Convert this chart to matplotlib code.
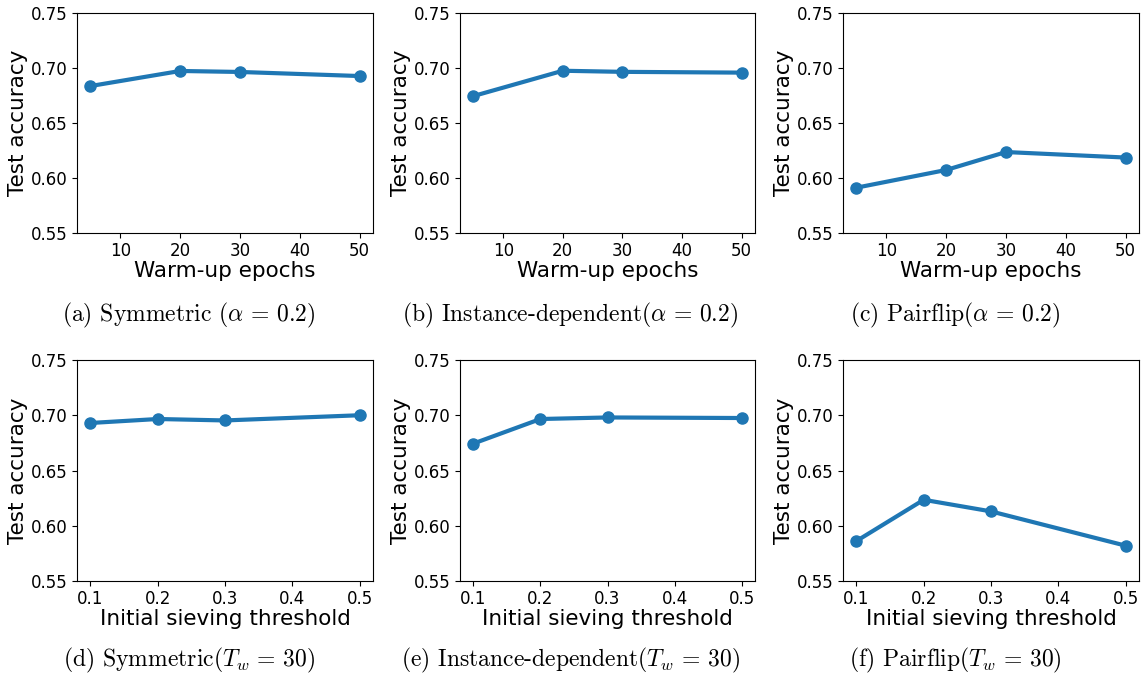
import matplotlib
matplotlib.use("Agg")
import matplotlib.pyplot as plt

plt.rcParams['mathtext.fontset'] = 'cm'

# warm-up epochs sweep (top row)
warmup_epochs = [5, 20, 30, 50]
acc_sym_warmup = [0.6836, 0.6973, 0.6964, 0.6927]
acc_inst_warmup = [0.6745, 0.6975, 0.6965, 0.6958]
acc_pair_warmup = [0.5912, 0.6073, 0.6236, 0.6186]

# initial sieving threshold sweep (bottom row)
thresholds = [0.1, 0.2, 0.3, 0.5]
acc_sym_thr = [0.6930, 0.6966, 0.6953, 0.7000]
acc_inst_thr = [0.6744, 0.6966, 0.6980, 0.6975]
acc_pair_thr = [0.5862, 0.6235, 0.6130, 0.5820]

captions = [r'(a) Symmetric ($\alpha\,=\,0.2$)',
            r'(b) Instance-dependent($\alpha\,=\,0.2$)',
            r'(c) Pairflip($\alpha\,=\,0.2$)',
            r'(d) Symmetric($T_w\,=\,30$)',
            r'(e) Instance-dependent($T_w\,=\,30$)',
            r'(f) Pairflip($T_w\,=\,30$)']

W, H = 1144, 677
fig = plt.figure(figsize=(W / 100, H / 100), dpi=100)

# axes boxes in pixels: left, right, top, bottom
lefts = [77, 460, 843]
rights = [373, 755, 1139]
rows = [(13, 233), (360, 581)]
cap_x = [189, 570, 955]
cap_y = [315, 660]

panels = [(warmup_epochs, acc_sym_warmup), (warmup_epochs, acc_inst_warmup),
          (warmup_epochs, acc_pair_warmup), (thresholds, acc_sym_thr),
          (thresholds, acc_inst_thr), (thresholds, acc_pair_thr)]

for i, (xs, ys) in enumerate(panels):
    r, c = divmod(i, 3)
    top, bot = rows[r]
    ax = fig.add_axes([lefts[c] / W, 1 - bot / H,
                       (rights[c] - lefts[c]) / W, (bot - top) / H])
    ax.plot(xs, ys, color='#1f77b4', linewidth=3, marker='o', markersize=8)
    ax.set_ylim(0.55, 0.75)
    ax.set_yticks([0.55, 0.60, 0.65, 0.70, 0.75])
    ax.tick_params(labelsize=12, pad=3)
    ax.set_ylabel('Test accuracy', fontsize=15.5, labelpad=2)
    if r == 0:
        ax.set_xlabel('Warm-up epochs', fontsize=15.5, labelpad=1)
    else:
        ax.set_xticks([0.1, 0.2, 0.3, 0.4, 0.5])
        ax.set_xlabel('Initial sieving threshold', fontsize=15.5, labelpad=1)
    fig.text(cap_x[c] / W, 1 - cap_y[r] / H, captions[i], ha='center', va='center',
             fontsize=17, family='cmr10')

fig.savefig('out.png', dpi=100)
